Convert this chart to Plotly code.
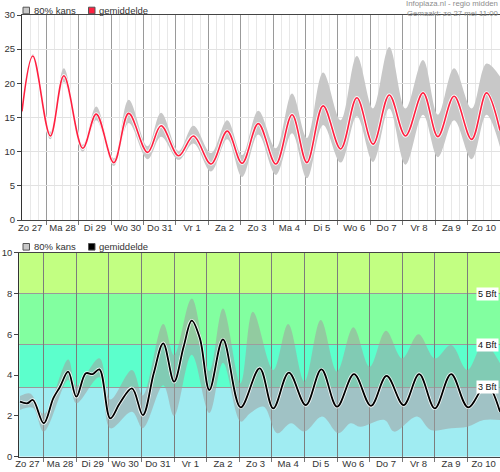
import plotly.graph_objects as go

# ---------------- data ----------------
day_labels = ["Zo 27", "Ma 28", "Di 29", "Wo 30", "Do 31", "Vr 1", "Za 2", "Zo 3",
              "Ma 4", "Di 5", "Wo 6", "Do 7", "Vr 8", "Za 9", "Zo 10"]
label_hours = [12 + 24 * i for i in range(len(day_labels))]          # noon of each day
midnight_hours = [24 * i for i in range(1, len(day_labels))]
six_hours = [h for h in range(6, 361, 6) if h % 24 != 0]
x_range = [6, 360]  # hours since Zo 27 00:00

# temperature (top chart)
temp_t = [6, 14, 27, 37, 51, 61, 74, 85, 99, 109, 122, 133, 146, 158, 169, 181,
          194, 206, 217, 229, 242, 254, 266, 278, 290, 303, 314, 326, 339, 350, 360]
temp_mean = [15.9, 24.0, 12.3, 21.1, 10.5, 15.5, 8.4, 15.6, 9.9, 13.8, 9.4, 12.3, 8.2, 13.0, 8.3, 14.1,
             8.2, 15.4, 8.4, 16.7, 10.4, 17.9, 11.1, 18.3, 12.3, 18.6, 12.2, 18.1, 11.8, 18.6, 13.1]
temp_hi = [16.2, 24.3, 12.9, 22.2, 11.0, 16.6, 9.0, 17.6, 10.8, 15.7, 10.1, 13.8, 9.8, 14.6, 9.5, 16.0,
           10.5, 18.5, 12.0, 21.6, 14.6, 24.0, 16.3, 25.3, 16.3, 23.4, 15.4, 22.2, 16.3, 22.9, 21.0]
temp_lo = [15.5, 23.7, 11.8, 20.2, 10.0, 14.6, 7.9, 14.2, 8.9, 12.2, 8.8, 11.2, 7.1, 11.8, 6.3, 12.5,
           6.6, 12.7, 6.1, 13.9, 8.4, 15.2, 8.5, 16.3, 8.1, 15.4, 9.2, 14.6, 8.9, 15.4, 10.7]

# wind (bottom chart)
wind_t = [6.5, 12, 16, 24, 31, 36, 42, 48, 55, 60, 65, 73, 80, 89, 97, 105, 112, 120, 127, 133,
          139, 146, 156, 169, 183, 193, 204.5, 217, 228.5, 240, 252.5, 265, 276.5, 289, 300.5,
          312, 324, 336.5, 350, 360]
wind_mean = [2.7, 2.62, 2.78, 1.64, 2.86, 3.43, 4.17, 2.94, 4.09, 4.05, 4.28, 1.88, 2.62, 3.35, 2.04,
             4.09, 5.56, 3.68, 5.39, 6.67, 5.8, 3.27, 5.75, 2.42, 4.33, 2.37, 4.12, 2.53, 4.28, 2.45,
             4.05, 2.49, 3.96, 2.53, 4.05, 2.37, 4.05, 2.42, 3.55, 2.2]
wind_hi_t = [6.5, 14, 24, 42, 48, 65, 73, 89, 97, 112, 120, 133, 146, 156, 169, 178, 193, 204,
             216, 228, 240, 252, 264, 276, 288, 300, 312, 324, 336, 348, 360]
wind_hi = [2.97, 3.1, 2.1, 4.77, 3.47, 4.82, 2.8, 4.25, 3.0, 6.5, 4.98, 7.75, 4.2, 7.27, 3.6, 7.1,
           4.25, 6.5, 3.68, 6.7, 4.17, 6.34, 4.41, 6.18, 4.82, 6.0, 4.82, 5.48, 4.25, 5.56, 4.58]
wind_lo_t = [6.5, 16, 24, 42, 48, 65, 73, 89, 97, 112, 120, 133, 146, 156, 169, 176, 186, 196,
             206, 216, 229, 241, 250, 257, 275, 282, 299, 309, 324, 336, 348, 360]
wind_lo = [2.29, 2.4, 1.23, 3.76, 2.62, 3.89, 1.39, 2.2, 1.4, 3.5, 2.0, 5.0, 2.14, 4.6, 1.72, 2.13,
           2.45, 1.15, 1.64, 1.23, 1.97, 1.15, 1.64, 1.47, 1.8, 1.23, 1.97, 1.31, 1.39, 1.47, 1.8, 1.8]

bft_edges = [0, 3.4, 5.5, 8.0, 10.8]
bft_colors = ["#a0ecf2", "#5cffcc", "#82ffa0", "#c2ff82"]
bft_labels = ["3 Bft", "4 Bft", "5 Bft"]

legend_labels = ["80% kans", "gemiddelde"]
header_lines = ["Infoplaza.nl - regio midden", "Gemaakt: zo 27 mei 11:00"]

FONT = "Liberation Sans, Arial, sans-serif"
W, H = 500, 472

fig = go.Figure()

# ---- top chart ----
fig.add_trace(go.Scatter(x=temp_t, y=temp_lo, mode="lines", line=dict(width=0, shape="spline"),
                         hoverinfo="skip", showlegend=False, xaxis="x", yaxis="y"))
fig.add_trace(go.Scatter(x=temp_t, y=temp_hi, mode="lines", line=dict(width=0, shape="spline"),
                         fill="tonexty", fillcolor="#c8c8c8", hoverinfo="skip", showlegend=False,
                         xaxis="x", yaxis="y"))
fig.add_trace(go.Scatter(x=temp_t, y=temp_mean, mode="lines",
                         line=dict(width=3.5, color="rgba(255,255,255,0.9)", shape="spline"),
                         hoverinfo="skip", showlegend=False, xaxis="x", yaxis="y"))
fig.add_trace(go.Scatter(x=temp_t, y=temp_mean, mode="lines",
                         line=dict(width=1.6, color="#ff2040", shape="spline"),
                         showlegend=False, xaxis="x", yaxis="y"))

# ---- bottom chart ----
fig.add_trace(go.Scatter(x=wind_lo_t, y=wind_lo, mode="lines", line=dict(width=0, shape="spline"),
                         hoverinfo="skip", showlegend=False, xaxis="x2", yaxis="y2"))
fig.add_trace(go.Scatter(x=wind_hi_t, y=wind_hi, mode="lines", line=dict(width=0, shape="spline"),
                         fill="tonexty", fillcolor="rgba(160,160,160,0.55)", hoverinfo="skip",
                         showlegend=False, xaxis="x2", yaxis="y2"))
fig.add_trace(go.Scatter(x=wind_t, y=wind_mean, mode="lines",
                         line=dict(width=3.5, color="rgba(255,255,255,0.85)", shape="spline"),
                         hoverinfo="skip", showlegend=False, xaxis="x2", yaxis="y2"))
fig.add_trace(go.Scatter(x=wind_t, y=wind_mean, mode="lines",
                         line=dict(width=1.8, color="#000000", shape="spline"),
                         showlegend=False, xaxis="x2", yaxis="y2"))

# label carrier traces for the overlay axes
fig.add_trace(go.Scatter(x=x_range, y=[None, None], mode="markers", showlegend=False,
                         hoverinfo="skip", xaxis="x3", yaxis="y"))
fig.add_trace(go.Scatter(x=x_range, y=[None, None], mode="markers", showlegend=False,
                         hoverinfo="skip", xaxis="x4", yaxis="y2"))

top_dom_x = [22 / W, 1]
top_dom_y = [(H - 220) / H, (H - 15) / H]
bot_dom_x = [19.3 / W, 1]
bot_dom_y = [(H - 456.7) / H, (H - 252.7) / H]

tickfont = dict(family=FONT, size=9.5, color="#333333")

def grid_axis(domain, anchor, gridcolor, minor_grid):
    d = dict(domain=domain, anchor=anchor, range=x_range, tickmode="array",
             tickvals=midnight_hours, showticklabels=False, ticks="outside", ticklen=4,
             tickcolor="#777777", showgrid=True, gridcolor=gridcolor, gridwidth=1,
             showline=True, linecolor="#444444", linewidth=1, mirror=True, zeroline=False,
             fixedrange=True)
    if minor_grid:
        d["minor"] = dict(tickmode="array", tickvals=six_hours, showgrid=True,
                          gridcolor="#e8e8e8", ticks="")
    return d

def label_axis(overlay, anchor):
    return dict(overlaying=overlay, anchor=anchor, range=x_range, tickmode="array",
                tickvals=label_hours, ticktext=day_labels, ticks="", showgrid=False,
                showline=False, zeroline=False, tickfont=tickfont, side="bottom",
                fixedrange=True)

shapes = []
for i, c in enumerate(bft_colors):
    shapes.append(dict(type="rect", xref="x2 domain", x0=0, x1=1, yref="y2",
                       y0=bft_edges[i], y1=min(bft_edges[i + 1], 10), fillcolor=c,
                       line=dict(width=0), layer="below"))

annotations = []
for lab, edge in zip(bft_labels, bft_edges[1:4]):
    annotations.append(dict(text=lab, xref="x2 domain", x=0.997, xanchor="right",
                            yref="y2", y=edge, yanchor="middle", showarrow=False,
                            bgcolor="white", borderpad=1,
                            font=dict(family=FONT, size=9, color="#111111")))

# legends (square keys + text)
legend_rows = [(10.5, ["#c8c8c8", "#ff2040"]), (246.8, ["#c8c8c8", "#000000"])]
key_x = [23, 88.5]
for yc, cols in legend_rows:
    for kx, col, lab in zip(key_x, cols, legend_labels):
        shapes.append(dict(type="rect", xref="paper", yref="paper",
                           x0=kx / W, x1=(kx + 6.5) / W,
                           y0=(H - yc - 3.3) / H, y1=(H - yc + 3.3) / H,
                           fillcolor=col, line=dict(color="#555555", width=1)))
        annotations.append(dict(text=lab, xref="paper", yref="paper", x=(kx + 8.5) / W,
                                y=(H - yc) / H, xanchor="left", yanchor="middle",
                                showarrow=False,
                                font=dict(family=FONT, size=9.5, color="#333333")))

# header (two lines in one block, right aligned)
annotations.append(dict(text="<br>".join(header_lines), xref="paper", yref="paper",
                        x=1.0, xanchor="right", y=1 + 2 / H, yanchor="top",
                        align="right", showarrow=False, borderpad=0,
                        font=dict(family=FONT, size=7.8, color="#8c8c8c")))

fig.update_layout(
    width=W, height=H,
    margin=dict(l=0, r=0, t=0, b=0, autoexpand=False),
    paper_bgcolor="white", plot_bgcolor="white",
    font=dict(family=FONT),
    showlegend=False,
    hovermode=False,
    xaxis=grid_axis(top_dom_x, "y", "#9a9a9a", True),
    xaxis2=grid_axis(bot_dom_x, "y2", "#7c7c7c", False),
    xaxis3=label_axis("x", "y"),
    xaxis4=label_axis("x2", "y2"),
    yaxis=dict(domain=top_dom_y, anchor="x", range=[0, 30], tickmode="array",
               tickvals=[0, 5, 10, 15, 20, 25, 30], ticks="outside", ticklen=4,
               tickcolor="#444444", showgrid=True, gridcolor="#e2e2e2", showline=True,
               linecolor="#333333", zeroline=False, tickfont=tickfont, fixedrange=True),
    yaxis2=dict(domain=bot_dom_y, anchor="x2", range=[0, 10], tickmode="array",
                tickvals=[0, 2, 4, 6, 8, 10], ticks="outside", ticklen=4,
                tickcolor="#444444", showgrid=False, showline=True, linecolor="#333333",
                zeroline=False, tickfont=tickfont, fixedrange=True,
                minor=dict(tickmode="array", tickvals=bft_edges[1:4], showgrid=True,
                           gridcolor="#9a9a9a", ticks="")),
    shapes=shapes,
    annotations=annotations,
)

fig.write_html("out.html", config={"displayModeBar": False, "staticPlot": True},
               post_script="document.body.style.margin='0';document.body.style.overflow='hidden';")
